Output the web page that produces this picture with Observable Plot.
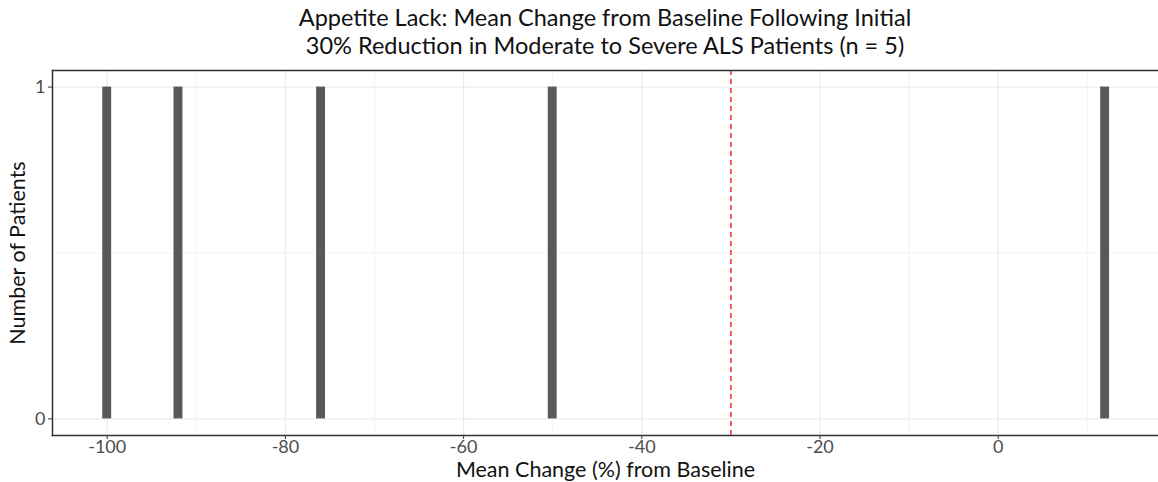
<!DOCTYPE html>
<html>
<head>
<meta charset="utf-8">
<script src="https://cdn.jsdelivr.net/npm/d3@7"></script>
<script src="https://cdn.jsdelivr.net/npm/@observablehq/plot@0.6"></script>
<style>
  html, body { margin: 0; padding: 0; background: #fff; }
  #wrap { position: relative; width: 1158px; height: 482px; font-family: Lato, "Open Sans", sans-serif; }
  #title { position: absolute; left: 52px; width: 1106px; top: 3px; text-align: center; font-size: 23.5px; line-height: 28px; color: #111; }
</style>
</head>
<body>
<div id="wrap">
  <div id="title">Appetite Lack: Mean Change from Baseline Following Initial<br>30% Reduction in Moderate to Severe ALS Patients (n = 5)</div>
</div>
<script>
const changes = [-100, -92, -76, -50, 12];
const refLine = [-30];
const xMajor = [-100, -80, -60, -40, -20, 0];
const xMinor = [-90, -70, -50, -30, -10, 10];
const yMajor = [0, 1];
const yMinor = [0.5];
const binEdges = d3.range(-100.5, 13.5, 1);

const chart = Plot.plot({
  width: 1158,
  height: 482,
  marginLeft: 52,
  marginRight: 0,
  marginTop: 70,
  marginBottom: 47,
  style: { fontFamily: "Lato, 'Open Sans', sans-serif", background: "#fff" },
  x: { domain: [-106.14, 17.99], label: null },
  y: { domain: [-0.05, 1.05], label: null },
  marks: [
    Plot.ruleX(xMinor, { stroke: "#ebebeb", strokeWidth: 0.6 }),
    Plot.ruleY(yMinor, { stroke: "#ebebeb", strokeWidth: 0.6 }),
    Plot.ruleX(xMajor, { stroke: "#ebebeb", strokeWidth: 1.2 }),
    Plot.ruleY(yMajor, { stroke: "#ebebeb", strokeWidth: 1.2 }),
    Plot.rectY(changes, Plot.binX({ y: "count" }, { x: d => d, thresholds: binEdges, fill: "#595959", inset: 0 })),
    Plot.ruleX(refLine, { stroke: "#ff2a2a", strokeWidth: 1.5, strokeDasharray: "5,4" }),
    Plot.frame({ anchor: "top", stroke: "#333", strokeWidth: 1.5 }),
    Plot.frame({ anchor: "left", stroke: "#333", strokeWidth: 1.5 }),
    Plot.frame({ anchor: "bottom", stroke: "#333", strokeWidth: 1.5 }),
    Plot.axisX({ ticks: xMajor, tickFormat: d => String(d), tickSize: 4, tickPadding: 1, fontSize: 18, color: "#4d4d4d", stroke: "#333", label: null }),
    Plot.axisY({ ticks: yMajor, tickFormat: d => String(d), tickSize: 4, tickPadding: 3, fontSize: 18, color: "#4d4d4d", stroke: "#333", label: null }),
    Plot.text(["Mean Change (%) from Baseline"], { frameAnchor: "bottom", lineAnchor: "middle", dy: 35, fontSize: 21.5, fill: "#111" }),
    Plot.text(["Number of Patients"], { frameAnchor: "left", textAnchor: "middle", lineAnchor: "middle", dx: -34, rotate: -90, fontSize: 21.5, fill: "#111" })
  ]
});
document.getElementById("wrap").prepend(chart);
</script>
</body>
</html>
